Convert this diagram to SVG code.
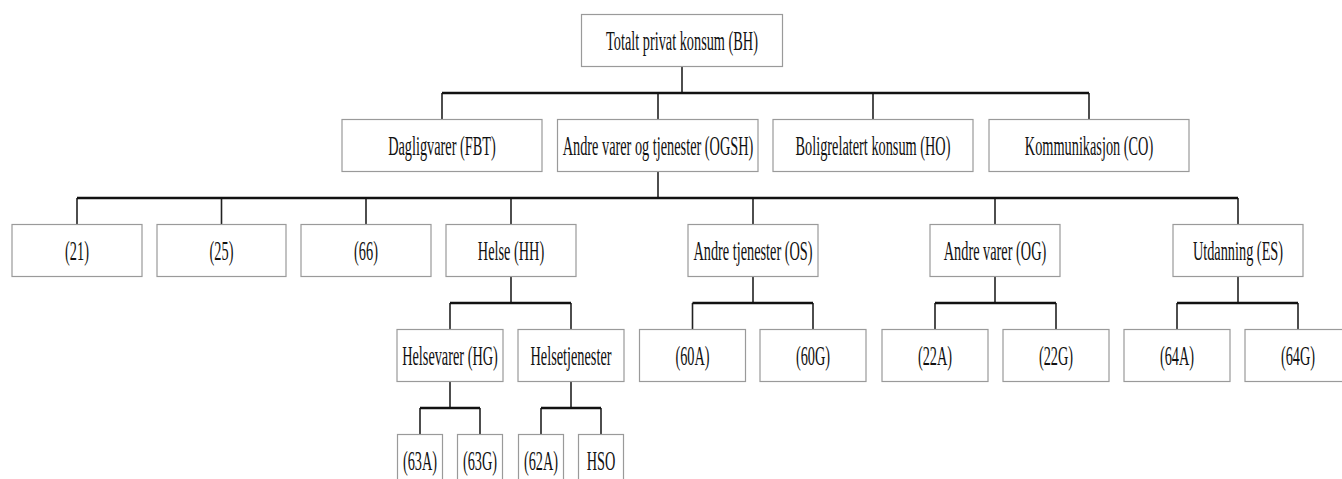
<svg xmlns="http://www.w3.org/2000/svg" width="1342" height="479" viewBox="0 0 1342 479">
<style>
.box{fill:#fff;stroke:#9a9a9a;stroke-width:1.2}
.t{font-family:"Liberation Serif","Times New Roman","DejaVu Serif",serif;font-size:27px;fill:#111;text-anchor:middle}
.h{stroke:#111;stroke-width:2.6;fill:none}
.v{stroke:#222;stroke-width:1.6;fill:none}
</style>
<rect width="1342" height="479" fill="#fff"/>
<g id="connectors">
<path class="v" d="M682 66V93M442 93V119M658 93V119M873 93V119M1089 93V119"/>
<path class="h" d="M442 93H1089"/>
<path class="v" d="M658 171V198M77 198V224M221.5 198V224M366 198V224M511 198V224M753 198V224M995 198V224M1238 198V224"/>
<path class="h" d="M77 198H1238"/>
<path class="v" d="M511 276V303M753 276V303M995 276V303M1238 276V303M450 303V329M571 303V329M692.5 303V329M813 303V329M935 303V329M1056 303V329M1177 303V329M1298 303V329"/>
<path class="h" d="M450 303H571M692.5 303H813M935 303H1056M1177 303H1298"/>
<path class="v" d="M450 381V408M571 381V408M420 408V434M480 408V434M541 408V434M601 408V434"/>
<path class="h" d="M420 408H480M541 408H601"/>
</g>
<g id="n-bh"><rect class="box" x="581.5" y="14.5" width="201" height="52"/><text class="t" transform="translate(682 50) scale(0.53 1)">Totalt privat konsum (BH)</text></g>
<g id="n-fbt"><rect class="box" x="342" y="119.5" width="200" height="52"/><text class="t" transform="translate(442 155) scale(0.53 1)">Dagligvarer (FBT)</text></g>
<g id="n-ogsh"><rect class="box" x="557.5" y="119.5" width="200.5" height="52"/><text class="t" transform="translate(658 155) scale(0.53 1)">Andre varer og tjenester (OGSH)</text></g>
<g id="n-ho"><rect class="box" x="773" y="119.5" width="200" height="52"/><text class="t" transform="translate(873 155) scale(0.53 1)">Boligrelatert konsum (HO)</text></g>
<g id="n-co"><rect class="box" x="989" y="119.5" width="200" height="52"/><text class="t" transform="translate(1089 155) scale(0.53 1)">Kommunikasjon (CO)</text></g>
<g id="n-21"><rect class="box" x="12" y="224.5" width="130" height="52"/><text class="t" transform="translate(77 260) scale(0.53 1)">(21)</text></g>
<g id="n-25"><rect class="box" x="157" y="224.5" width="129" height="52"/><text class="t" transform="translate(221.5 260) scale(0.53 1)">(25)</text></g>
<g id="n-66"><rect class="box" x="301" y="224.5" width="130" height="52"/><text class="t" transform="translate(366 260) scale(0.53 1)">(66)</text></g>
<g id="n-hh"><rect class="box" x="446" y="224.5" width="130" height="52"/><text class="t" transform="translate(511 260) scale(0.53 1)">Helse (HH)</text></g>
<g id="n-os"><rect class="box" x="688" y="224.5" width="130" height="52"/><text class="t" transform="translate(753 260) scale(0.53 1)">Andre tjenester (OS)</text></g>
<g id="n-og"><rect class="box" x="930" y="224.5" width="130" height="52"/><text class="t" transform="translate(995 260) scale(0.53 1)">Andre varer (OG)</text></g>
<g id="n-es"><rect class="box" x="1173" y="224.5" width="130" height="52"/><text class="t" transform="translate(1238 260) scale(0.53 1)">Utdanning (ES)</text></g>
<g id="n-hg"><rect class="box" x="397" y="329.5" width="106" height="52"/><text class="t" transform="translate(450 365) scale(0.53 1)">Helsevarer (HG)</text></g>
<g id="n-hs"><rect class="box" x="518" y="329.5" width="106" height="52"/><text class="t" transform="translate(571 365) scale(0.53 1)">Helsetjenester</text></g>
<g id="n-60a"><rect class="box" x="639.5" y="329.5" width="106" height="52"/><text class="t" transform="translate(692.5 365) scale(0.53 1)">(60A)</text></g>
<g id="n-60g"><rect class="box" x="760" y="329.5" width="106" height="52"/><text class="t" transform="translate(813 365) scale(0.53 1)">(60G)</text></g>
<g id="n-22a"><rect class="box" x="882" y="329.5" width="106" height="52"/><text class="t" transform="translate(935 365) scale(0.53 1)">(22A)</text></g>
<g id="n-22g"><rect class="box" x="1003" y="329.5" width="106" height="52"/><text class="t" transform="translate(1056 365) scale(0.53 1)">(22G)</text></g>
<g id="n-64a"><rect class="box" x="1124" y="329.5" width="106" height="52"/><text class="t" transform="translate(1177 365) scale(0.53 1)">(64A)</text></g>
<g id="n-64g"><rect class="box" x="1245" y="329.5" width="106" height="52"/><text class="t" transform="translate(1298 365) scale(0.53 1)">(64G)</text></g>
<g id="n-63a"><rect class="box" x="397.5" y="434.5" width="45" height="52"/><text class="t" transform="translate(420 470) scale(0.53 1)">(63A)</text></g>
<g id="n-63g"><rect class="box" x="457.5" y="434.5" width="45" height="52"/><text class="t" transform="translate(480 470) scale(0.53 1)">(63G)</text></g>
<g id="n-62a"><rect class="box" x="518.5" y="434.5" width="45" height="52"/><text class="t" transform="translate(541 470) scale(0.53 1)">(62A)</text></g>
<g id="n-hso"><rect class="box" x="578.5" y="434.5" width="45" height="52"/><text class="t" transform="translate(601 470) scale(0.53 1)">HSO</text></g>
</svg>
